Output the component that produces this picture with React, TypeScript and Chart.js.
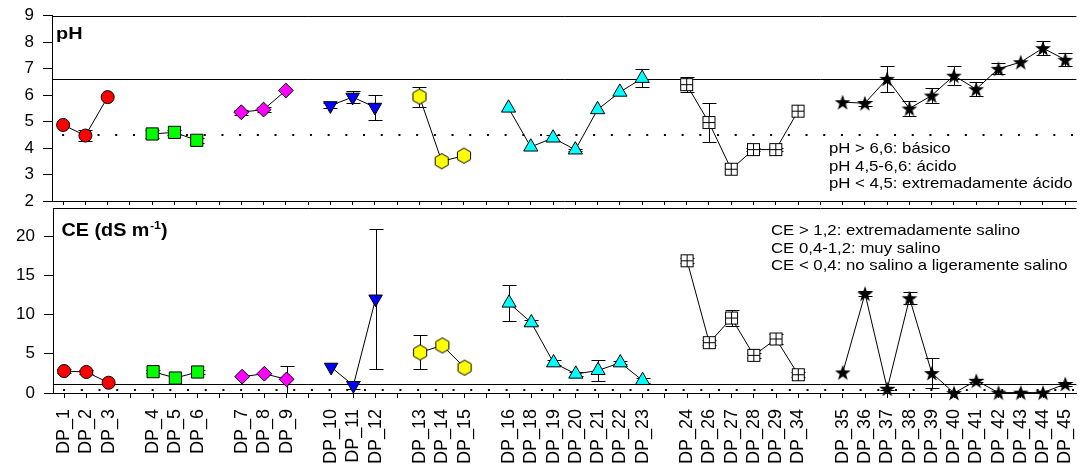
import React, { useEffect, useRef } from 'react';
import { Chart, registerables } from 'chart.js';

Chart.register(...registerables);

// ---------------- data ----------------
const sites = ['DP_1', 'DP_2', 'DP_3', 'DP_4', 'DP_5', 'DP_6', 'DP_7', 'DP_8', 'DP_9', 'DP_10', 'DP_11', 'DP_12', 'DP_13', 'DP_14', 'DP_15', 'DP_16', 'DP_18', 'DP_19', 'DP_20', 'DP_21', 'DP_22', 'DP_23', 'DP_24', 'DP_26', 'DP_27', 'DP_28', 'DP_29', 'DP_34', 'DP_35', 'DP_36', 'DP_37', 'DP_38', 'DP_39', 'DP_40', 'DP_41', 'DP_42', 'DP_43', 'DP_44', 'DP_45'];
const groupSizes = [3, 3, 3, 3, 3, 7, 6, 11];

const pHMean = [4.87, 4.47, 5.92, 4.53, 4.59, 4.29, 5.35, 5.45, 6.17, 5.6, 5.92, 5.54, 5.94, 3.5, 3.71, 5.51, 4.04, 4.38, 3.93, 5.45, 6.11, 6.63, 6.39, 4.96, 3.2, 3.94, 3.94, 5.39, 5.73, 5.69, 6.61, 5.49, 5.98, 6.73, 6.22, 6.99, 7.24, 7.77, 7.33];
const pHError = [0, 0.2, 0, 0.15, 0.1, 0.1, 0.1, 0.1, 0, 0.1, 0.24, 0.47, 0.38, 0, 0, 0, 0, 0.1, 0.05, 0, 0, 0.34, 0.28, 0.74, 0, 0.05, 0.05, 0, 0, 0.1, 0.5, 0.3, 0.3, 0.36, 0.27, 0.21, 0, 0.25, 0.25];

const ceMean = [2.8, 2.68, 1.31, 2.72, 1.91, 2.68, 2.08, 2.46, 1.74, 3.3, 0.97, 12.0, 5.18, 6.07, 3.23, 11.48, 8.97, 3.86, 2.42, 2.88, 3.86, 1.6, 16.87, 6.42, 9.56, 4.8, 6.89, 2.33, 2.63, 12.67, 0.55, 12.1, 2.55, 0.0, 1.57, 0.05, 0.05, 0.05, 1.15];
const ceError = [0.3, 0.3, 0, 0.2, 0, 0.3, 0, 0, 1.7, 0, 0.5, 8.9, 2.17, 0, 0, 2.25, 0.3, 0.3, 0.2, 1.36, 0.2, 0.3, 0.3, 0.3, 1.06, 0.3, 0.6, 0.3, 0, 0.3, 0.2, 0.8, 1.9, 0, 0.2, 0, 0.1, 0, 0.2];

const pHTicks = { min: 2, max: 9, step: 1 };
const ceTicks = { min: 0, max: 23.6, step: 5 };
const pHLimits = { solid: 6.6, dotted: 4.5 };
const ceLimits = { solid: 1.2, dotted: 0.4 };

const pHNotes = ['pH > 6,6: básico', 'pH 4,5-6,6: ácido', 'pH < 4,5: extremadamente ácido'];
const ceNotes = ['CE > 1,2: extremadamente salino', 'CE 0,4-1,2: muy salino', 'CE < 0,4: no salino a ligeramente salino'];

// categories with an empty slot between groups
const categories: string[] = [];
{
  let k = 0;
  groupSizes.forEach((n, g) => {
    if (g > 0) categories.push('');
    for (let i = 0; i < n; i++) categories.push(sites[k++]);
  });
}

// ---------------- styles ----------------
const FONT = '"Liberation Sans", Arial, Helvetica, sans-serif';
const groupFill = ['#ff0000', '#00ff00', '#ff00ff', '#0000ff', '#ffff00', '#00ffff', '#ffffff', '#000000'];

function makeCanvas(size: number, draw: (ctx: CanvasRenderingContext2D, c: number) => void) {
  const cv = document.createElement('canvas');
  cv.width = size;
  cv.height = size;
  const ctx = cv.getContext('2d')!;
  draw(ctx, size / 2);
  return cv;
}

function makeMarkers() {
  const hex = makeCanvas(18, (ctx, c) => {
    const R = 7.6;
    ctx.beginPath();
    for (let k = 0; k < 6; k++) {
      const a = -Math.PI / 2 + (k * Math.PI) / 3;
      const px = c + R * Math.cos(a);
      const py = c + R * Math.sin(a);
      if (k === 0) ctx.moveTo(px, py);
      else ctx.lineTo(px, py);
    }
    ctx.closePath();
    ctx.fillStyle = groupFill[4];
    ctx.fill();
    ctx.strokeStyle = '#000';
    ctx.lineWidth = 1;
    ctx.stroke();
  });
  const box = makeCanvas(15, (ctx) => {
    ctx.fillStyle = '#fff';
    ctx.fillRect(1.5, 1.5, 12, 12);
    ctx.strokeStyle = '#000';
    ctx.lineWidth = 1;
    ctx.strokeRect(1.5, 1.5, 12, 12);
    ctx.beginPath();
    ctx.moveTo(7.5, 1.5);
    ctx.lineTo(7.5, 13.5);
    ctx.moveTo(1.5, 7.5);
    ctx.lineTo(13.5, 7.5);
    ctx.stroke();
  });
  const star = makeCanvas(20, (ctx, c) => {
    const R = 8.3;
    const r = 3.3;
    ctx.beginPath();
    for (let k = 0; k < 10; k++) {
      const a = -Math.PI / 2 + (k * Math.PI) / 5;
      const rr = k % 2 === 0 ? R : r;
      const px = c + rr * Math.cos(a);
      const py = c + 0.7 + rr * Math.sin(a);
      if (k === 0) ctx.moveTo(px, py);
      else ctx.lineTo(px, py);
    }
    ctx.closePath();
    ctx.fillStyle = '#000';
    ctx.fill();
  });
  return [
    { style: 'circle', radius: 6.5, rotation: 0 },
    { style: 'rect', radius: 8.6, rotation: 0 },
    { style: 'rectRot', radius: 7.4, rotation: 0 },
    { style: 'triangle', radius: 7.8, rotation: 180 },
    { style: hex, radius: 7, rotation: 0 },
    { style: 'triangle', radius: 8.2, rotation: 0 },
    { style: box, radius: 7, rotation: 0 },
    { style: star, radius: 7, rotation: 0 },
  ];
}

function buildDatasets(values: number[], errors: number[], markers: any[]) {
  let idx = 0;
  return groupSizes.map((n, g) => {
    const s = sites.slice(idx, idx + n);
    const v = values.slice(idx, idx + n);
    const e = errors.slice(idx, idx + n);
    idx += n;
    const m = markers[g];
    return {
      data: s.map((site, i) => ({ x: site, y: v[i] })),
      errors: e,
      borderColor: '#000',
      borderWidth: 1,
      pointStyle: m.style,
      pointRadius: m.radius,
      pointRotation: m.rotation,
      pointBackgroundColor: groupFill[g],
      pointBorderColor: '#000',
      pointBorderWidth: 1,
      tension: 0,
      clip: false,
      spanGaps: false,
    } as any;
  });
}

type PanelOpts = {
  values: number[];
  errors: number[];
  ticks: { min: number; max: number; step: number };
  limits: { solid: number; dotted: number };
  padTop: number;
  xHeight: number;
  xTick: number;
  yWidth: number;
  showXLabels: boolean;
  title: (ctx: CanvasRenderingContext2D, a: any) => void;
  notes: string[];
  notesX: number;
  notesY: number;
  notesGap: number;
};

function txt(ctx: CanvasRenderingContext2D, s: string, x: number, y: number, font: string, sx: number) {
  ctx.save();
  ctx.font = font;
  ctx.translate(x, y);
  ctx.scale(sx, 1);
  ctx.fillText(s, 0, 0);
  ctx.restore();
  ctx.font = font;
  return ctx.measureText(s).width * sx;
}

function makeDecor(p: PanelOpts) {
  return {
    id: 'decor',
    beforeDatasetsDraw(chart: any) {
      const { ctx, chartArea: a } = chart;
      const y = chart.scales.y;
      const x = chart.scales.x;
      ctx.save();
      ctx.strokeStyle = '#000';
      ctx.lineWidth = 1;
      // top frame line
      const ty = Math.round(a.top) + 0.5;
      ctx.beginPath();
      ctx.moveTo(a.left, ty);
      ctx.lineTo(a.right, ty);
      ctx.stroke();
      // solid limit
      const sy = Math.round(y.getPixelForValue(p.limits.solid)) + 0.5;
      ctx.beginPath();
      ctx.moveTo(a.left, sy);
      ctx.lineTo(a.right, sy);
      ctx.stroke();
      // dotted limit
      const dy = Math.round(y.getPixelForValue(p.limits.dotted));
      ctx.lineWidth = 2;
      ctx.setLineDash([2, 15.7]);
      ctx.beginPath();
      ctx.moveTo(x.getPixelForTick(0) - 1, dy);
      ctx.lineTo(a.right, dy);
      ctx.stroke();
      ctx.setLineDash([]);
      // error bars
      ctx.lineWidth = 1;
      chart.data.datasets.forEach((ds: any, di: number) => {
        const meta = chart.getDatasetMeta(di);
        meta.data.forEach((pt: any, i: number) => {
          const e = ds.errors ? ds.errors[i] : 0;
          if (!e) return;
          const v = ds.data[i].y;
          const px = Math.round(pt.x) + 0.5;
          const yt = Math.round(y.getPixelForValue(v + e)) + 0.5;
          const yb = Math.round(y.getPixelForValue(v - e)) + 0.5;
          ctx.beginPath();
          ctx.moveTo(px, yt);
          ctx.lineTo(px, yb);
          ctx.moveTo(px - 7, yt);
          ctx.lineTo(px + 7, yt);
          ctx.moveTo(px - 7, yb);
          ctx.lineTo(px + 7, yb);
          ctx.stroke();
        });
      });
      ctx.restore();
    },
    afterDraw(chart: any) {
      const { ctx, chartArea: a } = chart;
      ctx.save();
      ctx.fillStyle = '#000';
      ctx.textBaseline = 'alphabetic';
      ctx.textAlign = 'left';
      p.title(ctx, a);
      p.notes.forEach((s, i) => {
        txt(ctx, s, p.notesX, p.notesY + i * p.notesGap, `15px ${FONT}`, 1.117);
      });
      ctx.restore();
    },
  };
}

function makeConfig(p: PanelOpts, markers: any[]): any {
  return {
    type: 'line',
    data: { labels: categories, datasets: buildDatasets(p.values, p.errors, markers) },
    options: {
      responsive: false,
      maintainAspectRatio: false,
      animation: false,
      devicePixelRatio: 1,
      layout: { padding: { top: p.padTop, left: 0, right: 0, bottom: 0 } },
      plugins: { legend: { display: false }, tooltip: { enabled: false } },
      scales: {
        x: {
          type: 'category',
          offset: true,
          grid: { display: true, drawOnChartArea: false, drawTicks: true, tickLength: p.xTick, color: '#000', lineWidth: 1, offset: false },
          border: { display: true, color: '#000', width: 1 },
          ticks: {
            display: p.showXLabels,
            autoSkip: false,
            minRotation: 90,
            maxRotation: 90,
            padding: 11,
            color: '#000',
            font: { family: FONT, size: 18 },
          },
          afterFit: (s: any) => {
            s.height = p.xHeight;
            s.paddingLeft = 0;
            s.paddingRight = 0;
          },
        },
        y: {
          min: p.ticks.min,
          max: p.ticks.max,
          grid: { display: true, drawOnChartArea: false, drawTicks: true, tickLength: 9, color: '#000', lineWidth: 1 },
          border: { display: true, color: '#000', width: 1 },
          ticks: { stepSize: p.ticks.step, padding: 9, color: '#000', font: { family: FONT, size: 17 } },
          afterBuildTicks: (s: any) => {
            s.ticks = s.ticks.filter((t: any) => Math.abs(t.value / p.ticks.step - Math.round(t.value / p.ticks.step)) < 1e-6);
          },
          afterFit: (s: any) => {
            s.width = p.yWidth;
            s.paddingTop = 0;
            s.paddingBottom = 0;
          },
        },
      },
    },
    plugins: [makeDecor(p)],
  };
}

export default function App() {
  const topRef = useRef<HTMLCanvasElement>(null);
  const botRef = useRef<HTMLCanvasElement>(null);

  useEffect(() => {
    const markers = makeMarkers();
    const top = new Chart(
      topRef.current!,
      makeConfig(
        {
          values: pHMean,
          errors: pHError,
          ticks: pHTicks,
          limits: pHLimits,
          padTop: 15.5,
          xHeight: 11,
          xTick: 4,
          yWidth: 52,
          showXLabels: false,
          title: (ctx) => {
            txt(ctx, 'pH', 56, 39, `bold 17px ${FONT}`, 1.17);
          },
          notes: pHNotes,
          notesX: 829,
          notesY: 153,
          notesGap: 17.5,
        },
        markers
      )
    );
    const bottom = new Chart(
      botRef.current!,
      makeConfig(
        {
          values: ceMean,
          errors: ceError,
          ticks: ceTicks,
          limits: ceLimits,
          padTop: 12,
          xHeight: 79,
          xTick: 5,
          yWidth: 53,
          showXLabels: true,
          title: (ctx) => {
            const f = `bold 17.5px ${FONT}`;
            let x = 61.5;
            const by = 39.5;
            x += txt(ctx, 'CE (dS m', x, by, f, 1.13);
            x += txt(ctx, '-1', x + 0.5, by - 7, `bold 11px ${FONT}`, 1.13) + 0.5;
            txt(ctx, ')', x, by, f, 1.13);
          },
          notes: ceNotes,
          notesX: 771,
          notesY: 39,
          notesGap: 17.5,
        },
        markers
      )
    );
    return () => {
      top.destroy();
      bottom.destroy();
    };
  }, []);

  return (
    <div style={{ position: 'absolute', left: 0, top: 0, width: 1086, height: 472, background: '#fff', overflow: 'hidden' }}>
      <canvas ref={topRef} width={1086} height={212} style={{ position: 'absolute', left: 0, top: 0 }} />
      <canvas ref={botRef} width={1086} height={276} style={{ position: 'absolute', left: 0, top: 196 }} />
    </div>
  );
}
